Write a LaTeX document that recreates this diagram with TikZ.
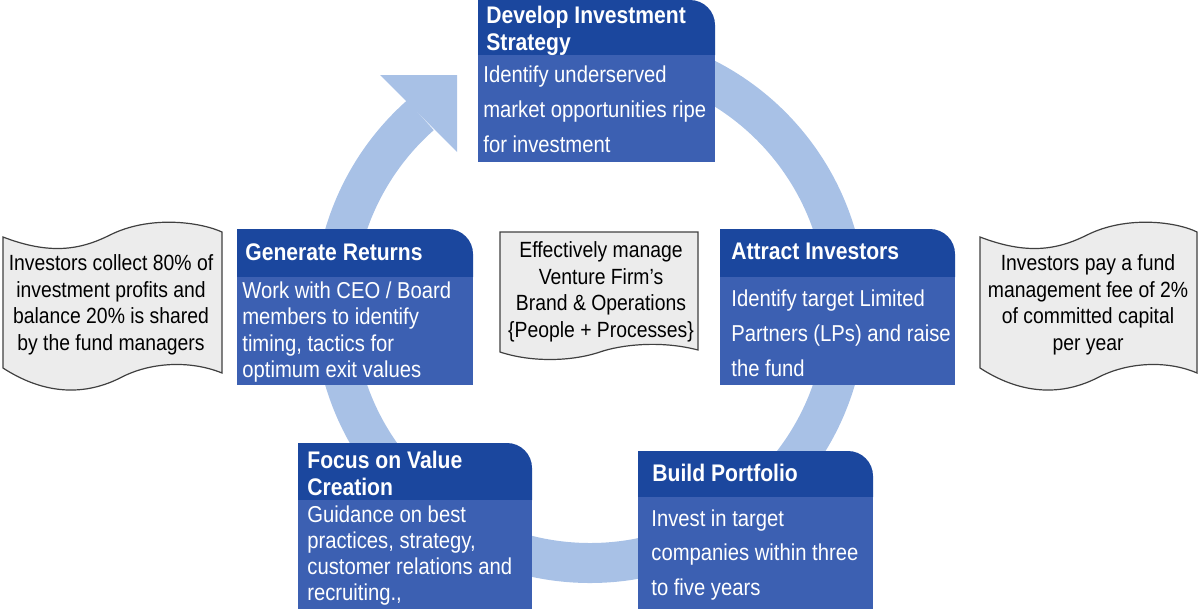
\documentclass[tikz,border=0pt]{standalone}
\usepackage{fontspec}
\setmainfont{Liberation Sans}[FakeStretch=0.88]
\definecolor{hdrblue}{HTML}{1B479E}
\definecolor{bodyblue}{HTML}{3C60B2}
\definecolor{ringblue}{HTML}{A8C1E6}
\definecolor{paper}{HTML}{ECECEC}
\tikzset{every picture/.style={line width=0.75pt}}
\tikzset{
  hdr/.style={fill=hdrblue},
  bodyfill/.style={fill=bodyblue},
  hdrtext/.style={anchor=north west,inner sep=0pt,text=white,font=\fontsize{24}{27}\selectfont\bfseries,align=left},
  bodytext/.style={anchor=north west,inner sep=0pt,text=white,align=left},
  notetext/.style={inner sep=0pt,text=black,font=\fontsize{22}{26.5}\selectfont,align=center},
  note/.style={fill=paper,draw=black!75,line width=1.2pt}
}
% x y w header-height body-height
\newcommand{\stepcard}[5]{%
  \fill[hdr] (#1,#2+#4) -- (#1,#2) [rounded corners=25] -- (#1+#3,#2) [sharp corners] -- (#1+#3,#2+#4) -- cycle;
  \fill[bodyfill] (#1,#2+#4) rectangle (#1+#3,#2+#4+#5);
}
\begin{document}
\begin{tikzpicture}[x=1pt,y=1pt,yscale=-1]
\useasboundingbox (0,0) rectangle (1198,608);

% ring with head
\draw[ringblue,line width=40] (590,307) ++(272:256) arc (272:588.5:256);
\fill[ringblue] (380,75) -- (457,75) -- (457,152) -- cycle;

% cards
\stepcard{478}{0}{237}{55}{107}
\node[hdrtext] (dev-t) at (486,6) {Develop Investment\\Strategy};
\node[bodytext,font=\fontsize{23}{35}\selectfont] (dev-b) at (483,65) {Identify underserved\\market opportunities ripe\\for investment};

\stepcard{720}{229}{235}{48}{108}
\node[hdrtext] (att-t) at (731,243) {Attract Investors};
\node[bodytext,font=\fontsize{23}{35}\selectfont] (att-b) at (731,289) {Identify target Limited\\Partners (LPs) and raise\\the fund};

\stepcard{237}{229}{236}{48}{108}
\node[hdrtext] (gen-t) at (245,243) {Generate Returns};
\node[bodytext,font=\fontsize{23}{26.5}\selectfont] (gen-b) at (242,281) {Work with CEO / Board\\members to identify\\timing, tactics for\\optimum exit values};

\stepcard{298}{443}{234}{57}{165}
\node[hdrtext] (foc-t) at (307,451) {Focus on Value\\Creation};
\node[bodytext,font=\fontsize{23}{26}\selectfont] (foc-b) at (307,505) {Guidance on best\\practices, strategy,\\customer relations and\\recruiting.,};

\stepcard{638}{451}{235}{46}{165}
\node[hdrtext] (bld-t) at (652,464) {Build Portfolio};
\node[bodytext,font=\fontsize{23}{34.5}\selectfont] (bld-b) at (651,509) {Invest in target\\companies within three\\to five years};

% notes
\draw[note] (500,232) -- (698,232) -- (698,350) .. controls (660,340) and (620,345) .. (600,352) .. controls (570,362) and (530,362) .. (500,352) -- cycle;
\node[notetext] (mid) at (601,292) {Effectively manage\\Venture Firm’s\\Brand \& Operations\\\{People + Processes\}};

\draw[note] (3,237) .. controls (50,255) and (80,250) .. (110,235) .. controls (150,215) and (200,222) .. (222,232)
  -- (222,373) .. controls (190,360) and (150,362) .. (120,378) .. controls (80,398) and (40,392) .. (3,368) -- cycle;
\node[notetext] (left) at (111,305) {Investors collect 80\% of\\investment profits and\\balance 20\% is shared\\by the fund managers};

\draw[note] (980,237) .. controls (1027,255) and (1057,250) .. (1087,235) .. controls (1127,215) and (1177,222) .. (1197,232)
  -- (1197,373) .. controls (1167,360) and (1127,362) .. (1097,378) .. controls (1057,398) and (1017,392) .. (980,368) -- cycle;
\node[notetext] (right) at (1088,305) {Investors pay a fund\\management fee of 2\%\\of committed capital\\per year};
\end{tikzpicture}
\end{document}
